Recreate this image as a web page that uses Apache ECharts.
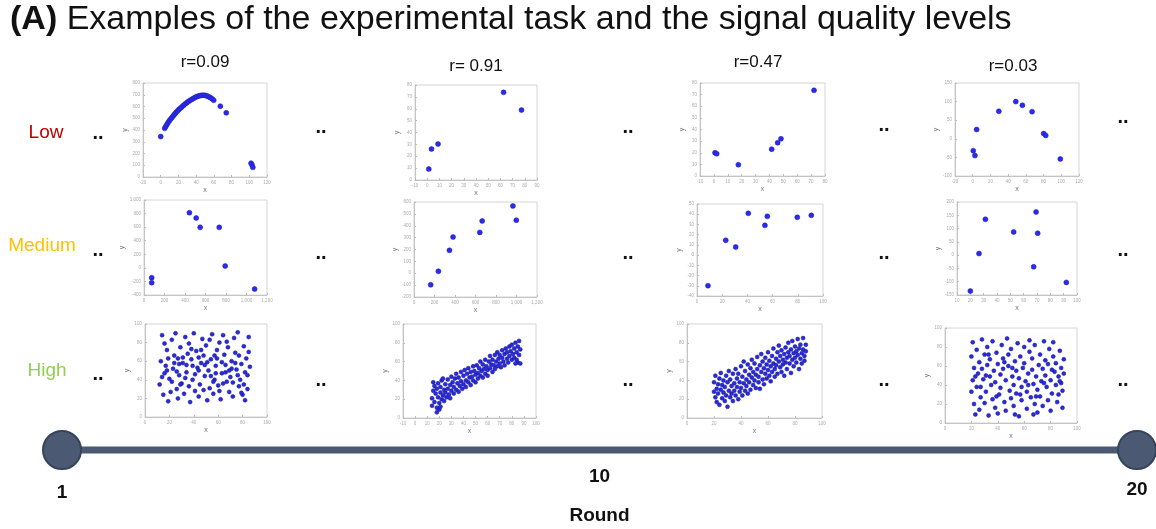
<!DOCTYPE html>
<html>
<head>
<meta charset="utf-8">
<script src="https://cdn.jsdelivr.net/npm/echarts@6/dist/echarts.min.js"></script>
<style>
  html, body { margin: 0; padding: 0; background: #fff; }
  #main { width: 1156px; height: 529px; }
</style>
</head>
<body>
<div id="main"></div>
<script>
// ---- data ----
const rowNames = ['Low', 'Medium', 'High'];
const corrLabels = ['r=0.09', 'r= 0.91', 'r=0.47', 'r=0.03'];
const timelineRounds = [1, 20];

// Low signal quality (few points)
const lowR09 = [[0,344],[4.5,414],[5.8,431],[7.1,448],[8.4,464],[9.7,479],[11.2,493],[12.7,507],[14.2,521],
  [15.7,535],[17.2,548],[18.8,561],[20.4,574],[22.1,586],[24,598],[25.9,611],[27.8,623],[29.7,634],
  [31.5,644],[33.4,654],[35.3,662],[37.2,670],[39.1,678],[41,685],[42.8,689],[44.7,693],[46.6,695],
  [48.5,696],[50.4,694],[52.2,690],[54.1,684],[56,676],[57.9,666],[59.8,654],[67.3,603],[74,546],
  [102,118],[103,104],[104,82]];
const lowR91 = [[1.3,9.3],[3.5,26.1],[8.9,30.3],[62.6,73.8],[77.3,58.9]];
const lowR47 = [[0.8,20],[2.0,19.1],[17.6,9.7],[41.6,23.1],[45.9,28.6],[48.3,32],[72.1,73.7]];
const lowR03 = [[0.6,-32],[2.5,-45],[4.4,25],[29.5,74],[48.6,100],[56.1,90],[67,73],[80.1,14],[82.4,9],[98.9,-54]];

// Medium signal quality
const medR09 = [[75,-145],[75,-218],[443,813],[509,735],[548,597],[734,597],[792,27],[1079,-312]];
const medR91 = [[163,-97],[238,17],[346,193],[381,305],[642,344],[665,441],[965,567],[998,447]];
const medR47 = [[8.7,-29.9],[22.8,14.5],[30.7,7.9],[40.7,40.9],[53.9,29.1],[55.8,37.9],[79.6,37],[90.7,38.9]];
const medR03 = [[20,-135],[26.5,6],[31.3,135],[52.5,87.5],[67.5,-44],[69.3,162.5],[70.5,82.5],[92,-102.5]];

// High signal quality (dense clouds)
const highR09 = [[14,88],[18,72],[13,60],[16,47],[12,35],[15,24],[19,17],[17,55],[20,41],[22,83],
  [24,66],[26,30],[23,52],[27,20],[25,90],[29,75],[28,45],[31,58],[30,36],[33,86],
  [32,25],[35,68],[34,48],[37,16],[36,79],[39,40],[38,62],[41,28],[40,90],[43,53],
  [42,71],[45,35],[44,22],[47,84],[46,58],[49,44],[48,66],[51,18],[50,77],[53,31],
  [52,50],[55,89],[54,62],[57,40],[56,25],[59,72],[58,55],[61,80],[60,34],[63,47],
  [62,19],[65,67],[64,88],[67,38],[66,56],[69,27],[68,75],[71,60],[70,43],[73,85],
  [72,22],[75,51],[74,69],[77,33],[76,91],[79,57],[78,40],[81,76],[80,24],[83,63],
  [82,48],[85,86],[84,30],[86,54],[85,70],[19,63],[22,38],[28,57],[33,42],[38,73],
  [44,64],[48,29],[53,83],[58,47],[63,59],[67,81],[72,37],[77,66],[82,18],[16,79],
  [26,49],[36,33],[46,72],[56,38],[66,48],[76,45],[21,27],[31,64],[41,46],[51,59],
  [61,28],[71,52],[81,35],[24,58],[34,56],[44,50],[54,44],[64,36],[74,58],[84,45],
  [18,50],[29,35],[39,55],[49,56],[59,63],[69,50],[79,26],[14,43],[27,63],[57,66]];
const highR91 = [[14,13],[15,29],[14,21],[16,34],[16,17],[17,26],[18,11],[18,31],[19,22],[19,37],
  [20,16],[21,27],[21,33],[22,20],[22,40],[23,24],[24,30],[24,18],[25,36],[25,27],
  [26,22],[27,41],[27,31],[28,25],[29,35],[29,21],[30,44],[30,29],[31,38],[32,26],
  [32,33],[33,42],[34,30],[34,47],[35,37],[36,28],[36,43],[37,34],[38,49],[38,39],
  [39,31],[40,45],[40,36],[41,51],[42,40],[42,33],[43,47],[44,38],[44,53],[45,43],
  [46,35],[46,49],[47,44],[48,55],[48,40],[49,50],[50,46],[50,38],[51,56],[52,48],
  [52,42],[53,53],[54,45],[54,60],[55,50],[56,43],[56,57],[57,52],[58,62],[58,47],
  [59,55],[60,51],[60,45],[61,60],[62,53],[62,66],[63,57],[64,49],[64,62],[65,56],
  [66,67],[66,52],[67,60],[68,55],[68,70],[69,63],[70,58],[70,67],[71,54],[72,64],
  [72,72],[73,60],[74,68],[74,56],[75,74],[76,63],[76,70],[77,59],[78,76],[78,66],
  [79,71],[80,62],[80,78],[81,68],[82,74],[82,64],[83,80],[84,70],[84,62],[85,76],
  [86,67],[86,82],[87,73],[85,59],[83,58],[20,9],[21,12],[23,42],[18,6],[15,38],[87,58]];
const highR47 = [[20,28],[20,38],[21,22],[21,45],[22,31],[22,17],[23,36],[23,26],[24,42],[24,14],
  [25,30],[25,48],[26,21],[26,35],[27,27],[27,40],[28,18],[28,33],[29,45],[29,24],
  [30,38],[30,12],[31,29],[31,50],[32,22],[32,41],[33,34],[33,26],[34,47],[34,18],
  [35,37],[35,29],[36,52],[36,24],[37,42],[37,33],[38,20],[38,47],[39,38],[39,28],
  [40,55],[40,32],[41,24],[41,44],[42,37],[42,60],[43,29],[43,50],[44,41],[44,34],
  [45,57],[45,26],[46,46],[46,38],[47,30],[47,53],[48,43],[48,62],[49,35],[49,49],
  [50,40],[50,58],[51,32],[51,46],[52,65],[52,52],[53,38],[53,44],[54,56],[54,31],
  [55,49],[55,68],[56,41],[56,60],[57,53],[57,36],[58,47],[58,64],[59,57],[59,42],
  [60,70],[60,51],[61,45],[61,61],[62,55],[62,39],[63,66],[63,49],[64,58],[64,74],
  [65,52],[65,44],[66,63],[66,56],[67,70],[67,47],[68,60],[68,77],[69,54],[69,66],
  [70,49],[70,72],[71,62],[71,57],[72,68],[72,45],[73,75],[73,59],[74,64],[74,52],
  [75,80],[75,70],[76,58],[76,66],[77,73],[77,48],[78,62],[78,82],[79,69],[79,55],
  [80,76],[80,64],[81,59],[81,71],[82,67],[82,84],[83,74],[83,52],[84,63],[84,78],
  [85,69],[85,58],[86,73],[86,85],[87,66],[87,61],[88,71],[88,78]];
const highR03 = [[21,85],[20,70],[22,58],[21,45],[20,33],[22,20],[23,9],[24,77],[25,52],[24,38],
  [26,64],[27,27],[26,14],[28,88],[29,46],[28,57],[30,72],[31,33],[30,21],[32,61],
  [33,8],[32,80],[34,49],[35,40],[34,67],[36,25],[37,55],[36,86],[38,16],[39,74],
  [38,43],[40,62],[41,30],[40,10],[42,51],[43,82],[42,37],[44,68],[45,22],[44,57],
  [46,45],[47,89],[46,13],[48,72],[49,34],[48,60],[50,26],[51,49],[50,78],[52,40],
  [53,65],[52,18],[54,55],[55,84],[54,31],[56,7],[57,70],[56,47],[58,38],[59,58],
  [58,24],[60,80],[61,44],[60,63],[62,15],[63,52],[62,33],[64,75],[65,27],[64,87],
  [66,56],[67,41],[66,68],[68,20],[69,49],[68,82],[70,35],[71,61],[70,11],[72,72],
  [73,44],[72,28],[74,57],[75,86],[74,18],[76,66],[77,38],[76,50],[78,24],[79,78],
  [78,62],[80,45],[81,31],[80,13],[82,70],[83,54],[82,85],[84,40],[85,22],[84,63],
  [86,49],[87,76],[86,30],[88,58],[89,16],[88,42],[90,67],[89,34],[90,52],[23,49],
  [27,38],[33,72],[39,28],[45,64],[51,58],[57,30],[63,40],[69,28],[75,42],[81,56],
  [87,44],[31,50],[53,9],[67,9]];

// axis ranges per panel: [min, max, interval]
const xRanges = [[-20,120,20],[-10,90,10],[-10,80,10],[-20,120,20],
                 [0,1200,200],[0,1200,200],[0,100,20],[10,100,10],
                 [0,100,20],[-10,100,10],[0,100,20],[0,100,20]];
const yRanges = [[0,800,100],[0,80,10],[0,80,10],[-100,150,50],
                 [-400,1000,200],[-200,600,100],[-40,50,10],[-150,200,50],
                 [0,100,20],[0,100,20],[0,100,20],[0,100,20]];
const panelData = [lowR09, lowR91, lowR47, lowR03,
                   medR09, medR91, medR47, medR03,
                   highR09, highR91, highR47, highR03];

// ---- layout ----
const boxes = [
  [143,83,124,94],[415,85,122,95],[700,83,125,93],[955,83,124,93],
  [144,200,123,95],[414,202,123,95],[697,204,126,92],[957,202,120,93],
  [145,324,122,93],[403,324,133,94],[687,324,135,94],[945,328,132,95]
];

const grid = [], xAxis = [], yAxis = [], series = [];
boxes.forEach((b, i) => {
  grid.push({ left: b[0], top: b[1], width: b[2], height: b[3], show: true,
    borderColor: '#d4d4d4', borderWidth: 1, backgroundColor: '#fff' });
  const ax = (r, name, gap) => ({
    gridIndex: i, type: 'value', min: r[0], max: r[1], interval: r[2],
    name: name, nameLocation: 'middle', nameGap: gap,
    nameTextStyle: { fontSize: 7, color: '#777' },
    axisLine: { show: true, onZero: false, lineStyle: { color: '#c4c4c4' } },
    axisTick: { show: true, inside: true, length: 2, lineStyle: { color: '#bdbdbd' } },
    splitLine: { show: false },
    axisLabel: { fontSize: 4.5, color: '#aaa', margin: 3 }
  });
  xAxis.push(ax(xRanges[i], 'x', 10));
  yAxis.push(ax(yRanges[i], 'y', 14));
  const dense = i >= 8;
  series.push({
    type: 'scatter', xAxisIndex: i, yAxisIndex: i,
    data: panelData[i], symbolSize: dense ? 4 : 5, silent: true,
    itemStyle: { color: dense ? '#2a2ae0' : '#2b2bf0',
      borderColor: dense ? '#14148a' : '#1c1cb0', borderWidth: 0.5, opacity: 1 }
  });
});

// timeline: Round 1 -> 20
const tl = boxes.length;
grid.push({ left: 62, top: 430, width: 1075, height: 40 });
xAxis.push({
  gridIndex: tl, type: 'value', min: 1, max: 20, interval: 0.5,
  name: 'Round', nameLocation: 'middle', nameGap: 36,
  nameTextStyle: { fontSize: 19, fontWeight: 'bold', color: '#111', fontFamily: 'Liberation Sans' },
  axisLine: { show: false }, axisTick: { show: false }, splitLine: { show: false },
  axisLabel: {
    interval: 0, margin: 0, showMinLabel: true, showMaxLabel: true,
    formatter: v => v === 1 ? '{a|1}' : v === 10.5 ? '{b|10}' : v === 20 ? '{c|20}' : '',
    rich: {
      a: { fontSize: 19, fontWeight: 'bold', color: '#111', padding: [13, 0, 0, 0], fontFamily: 'Liberation Sans' },
      b: { fontSize: 19, fontWeight: 'bold', color: '#111', padding: [-3, 0, 0, 0], fontFamily: 'Liberation Sans' },
      c: { fontSize: 19, fontWeight: 'bold', color: '#111', padding: [10, 0, 0, 0], fontFamily: 'Liberation Sans' }
    }
  }
});
yAxis.push({ gridIndex: tl, type: 'value', min: -1, max: 1, show: false });
series.push({
  type: 'line', xAxisIndex: tl, yAxisIndex: tl, silent: true,
  data: timelineRounds.map(r => [r, 0]),
  symbol: 'circle', symbolSize: 38,
  lineStyle: { width: 7, color: '#4b5a72' },
  itemStyle: { color: '#4b5a72', borderColor: '#36445a', borderWidth: 2 }
});

// ---- texts ----
const font = 'Liberation Sans, Arial, sans-serif';
const graphic = [
  { type: 'text', left: 10, top: 3, style: {
      text: '{b|(A)} Examples of the experimental task and the signal quality levels',
      font: '34px ' + font, fill: '#111',
      rich: { b: { fontWeight: 'bold', fontSize: 34, fontFamily: font, fill: '#111' } } } }
];
const corrPos = [[205,62],[476,66],[758,62],[1013,66]];
corrLabels.forEach((t, i) => graphic.push({ type: 'text', x: corrPos[i][0], y: corrPos[i][1],
  style: { text: t, font: '17px ' + font, fill: '#111', align: 'center', verticalAlign: 'middle' } }));

const rowCol = ['#c00000', '#ffc000', '#92d050'];
const rowPos = [[46,133],[42,246],[47,371]];
rowNames.forEach((t, i) => graphic.push({ type: 'text', x: rowPos[i][0], y: rowPos[i][1],
  style: { text: t, font: '19px ' + font, fill: rowCol[i], align: 'center', verticalAlign: 'middle' } }));

const dots = [[98,133],[98,250],[98,374],
              [321,127],[321,253],[321,380],
              [628,127],[628,253],[628,380],
              [884,125],[884,253],[884,380],
              [1123,117],[1123,250],[1123,380]];
dots.forEach(d => graphic.push({ type: 'text', x: d[0], y: d[1],
  style: { text: '..', font: 'bold 20px ' + font, fill: '#111', align: 'center', verticalAlign: 'middle' } }));

const chart = echarts.init(document.getElementById('main'), null, { renderer: 'canvas' });
chart.setOption({
  backgroundColor: '#fff',
  animation: false,
  textStyle: { fontFamily: font },
  grid, xAxis, yAxis, series, graphic
});
</script>
</body>
</html>
